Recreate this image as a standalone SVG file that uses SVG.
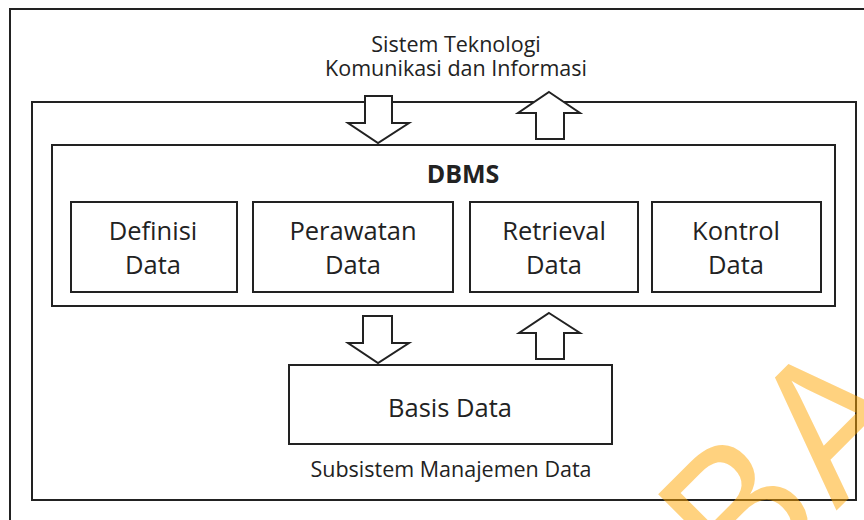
<svg xmlns="http://www.w3.org/2000/svg" width="864" height="520" viewBox="0 0 864 520">
<style>
.box{fill:#fff;stroke:#222;stroke-width:2}
.frame{fill:none;stroke:#222;stroke-width:2}
.arrow{fill:#fff;stroke:#222;stroke-width:2;stroke-linejoin:miter}
.t{font-family:"Open Sans","Liberation Sans",sans-serif;fill:#222;text-anchor:middle}
.lbl{font-size:25.5px}
.cap{font-size:21.5px}
.wm{font-family:"Liberation Sans",sans-serif;font-size:200px;letter-spacing:10px;fill:#FFA500;fill-opacity:0.5}
</style>
<rect width="864" height="520" fill="#fff"/>
<g id="outer-frame"><rect class="frame" x="10" y="9" width="900" height="600"/></g>
<g id="subsystem-frame"><rect class="frame" x="32" y="102" width="824" height="398"/></g>
<g id="label-sistem">
<text class="t cap" x="456" y="52">Sistem Teknologi</text>
<text class="t cap" x="456" y="76">Komunikasi dan Informasi</text>
</g>
<g id="dbms">
<rect class="box" x="52" y="145" width="783" height="161"/>
<text class="t" x="463" y="183" font-size="25" font-weight="bold">DBMS</text>
</g>
<g id="definisi">
<rect class="box" x="71" y="202" width="166" height="90"/>
<text class="t lbl" x="153" y="240">Definisi</text>
<text class="t lbl" x="153" y="274">Data</text>
</g>
<g id="perawatan">
<rect class="box" x="253" y="202" width="200" height="90"/>
<text class="t lbl" x="353" y="240">Perawatan</text>
<text class="t lbl" x="353" y="274">Data</text>
</g>
<g id="retrieval">
<rect class="box" x="470" y="202" width="168" height="90"/>
<text class="t lbl" x="554" y="240">Retrieval</text>
<text class="t lbl" x="554" y="274">Data</text>
</g>
<g id="kontrol">
<rect class="box" x="652" y="202" width="169" height="90"/>
<text class="t lbl" x="736" y="240">Kontrol</text>
<text class="t lbl" x="736" y="274">Data</text>
</g>
<g id="basis-data">
<rect class="box" x="289" y="365" width="323" height="79"/>
<text class="t lbl" x="450" y="417">Basis Data</text>
</g>
<g id="label-subsistem">
<text class="t cap" x="451" y="477">Subsistem Manajemen Data</text>
</g>
<g id="connectors">
<polygon class="arrow" points="365,96 392,96 392,123 409,123 378,143 348,123 365,123"/>
<polygon class="arrow" points="549,92 580,113 564,113 564,139 536,139 536,113 518,113"/>
<polygon class="arrow" points="363,316 392,316 392,343 409,343 378,363 348,343 363,343"/>
<polygon class="arrow" points="549,313 580,333 564,333 564,359 536,359 536,333 519,333"/>
</g>
<g id="watermark">
<text class="wm" transform="translate(745,602) rotate(-45) scale(0.9,1)">BA</text>
</g>
</svg>
